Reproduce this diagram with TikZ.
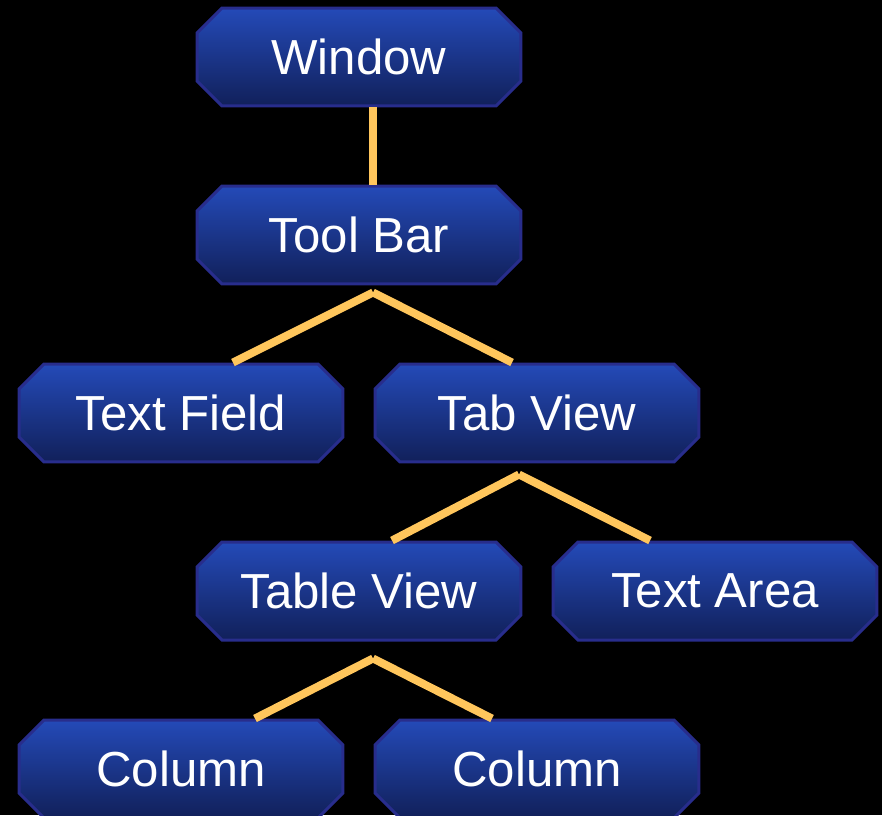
\documentclass[tikz,border=0pt]{standalone}
\usepackage{fontspec}
\setmainfont{Liberation Sans}
\usepackage{tikz}
\usetikzlibrary{calc}
\usetikzlibrary{shapes.misc}

\definecolor{boxtop}{RGB}{36,74,184}
\definecolor{boxmid}{RGB}{30,58,150}
\definecolor{boxbot}{RGB}{17,32,90}
\definecolor{boxline}{RGB}{40,45,140}
\definecolor{linkcol}{RGB}{255,198,92}

\begin{document}
\begin{tikzpicture}[x=0.02cm,y=-0.02cm,
 box/.style={chamfered rectangle,chamfered rectangle xsep=0.25cm,
 chamfered rectangle ysep=0.25cm,minimum width=6.48cm,minimum height=1.96cm,
 inner sep=0pt,draw=boxline,line width=0.06cm,top color=boxtop,
 middle color=boxmid,bottom color=boxbot,text=white,
 font=\fontsize{28}{33}\selectfont},
 link/.style={draw=linkcol,line width=0.16cm}]

% black page
\fill[black] (0,0) rectangle (882,815);
\useasboundingbox (0,0) rectangle (882,815);

\node (window) [box] at (359,57) {Window};
\node (toolbar) [box] at (359,235) {Tool Bar};
\node (textfield) [box] at (181,413) {Text Field};
\node (tabview) [box] at (537,413) {Tab View};
\node (tableview) [box] at (359,591) {Table View};
\node (textarea) [box] at (715,591) {Text Area};
\node (columna) [box] at (181,769) {Column};
\node (columnb) [box] at (537,769) {Column};

% fork points below the parents
\coordinate (tb-fork) at ($(toolbar.south)+(14,7)$);
\coordinate (tv-fork) at ($(tabview.south)+(-18,11)$);
\coordinate (tbl-fork) at ($(tableview.south)+(14,17)$);

\draw[link] ($(window.south)+(14,0)$)--($(toolbar.north)+(14,0)$);

\draw[link] (tb-fork)--($(textfield.north)+(52,0)$);
\draw[link] (tb-fork)--($(tabview.north)+(-25,0)$);

\draw[link] (tv-fork)--($(tableview.north)+(33,0)$);
\draw[link] (tv-fork)--($(textarea.north)+(-65,0)$);

\draw[link] (tbl-fork)--($(columna.north)+(74,0)$);
\draw[link] (tbl-fork)--($(columnb.north)+(-45,0)$);

\end{tikzpicture}
\end{document}
